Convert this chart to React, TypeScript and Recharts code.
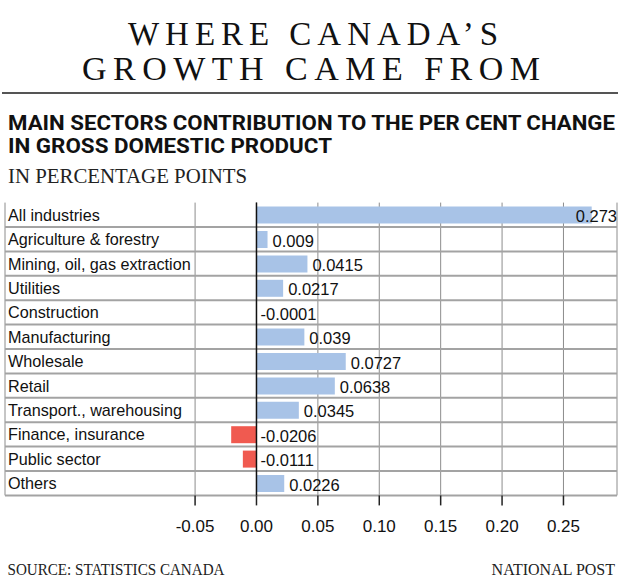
import { BarChart, Bar, XAxis, YAxis, CartesianGrid, ReferenceLine, LabelList, Cell } from 'recharts';

const sectors = [
  'All industries',
  'Agriculture & forestry',
  'Mining, oil, gas extraction',
  'Utilities',
  'Construction',
  'Manufacturing',
  'Wholesale',
  'Retail',
  'Transport., warehousing',
  'Finance, insurance',
  'Public sector',
  'Others',
];
const contributions = [0.273, 0.009, 0.0415, 0.0217, -0.0001, 0.039, 0.0727, 0.0638, 0.0345, -0.0206, -0.0111, 0.0226];
const xTicks = [-0.05, 0, 0.05, 0.1, 0.15, 0.2, 0.25];

const data = sectors.map((sector, i) => ({ sector, value: contributions[i] }));

const W = 620;
const H = 588;
// plot area runs x 5..617, y 202.6..495.4 (labels sit inside it on the left)
const MARGIN = { top: 202.6, right: 3, left: 0, bottom: 52.6 };
const SANS = '"Liberation Sans", Arial, sans-serif';
const SERIF = '"Liberation Serif", "Times New Roman", serif';
const BLUE = '#a8c3e7';
const RED = '#f05a50';

function SectorTick(props: any) {
  const { y, payload } = props;
  return (
    <text x={8} y={y} dominantBaseline="central" fontFamily={SANS} fontSize={16.2} fill="#111">
      {payload.value}
    </text>
  );
}

function ValueLabel(props: any) {
  const { x, y, width, height, value } = props;
  const fs = 16.5;
  const text = String(value);
  const right = Math.max(x, x + width);
  const cy = y + height / 2 + 1;
  let tx = value < 0 ? right + 4 : right + 5;
  let anchor: 'start' | 'end' = 'start';
  const digits = text.replace(/[^0-9]/g, '').length;
  const est = (digits * 0.556 + 0.278 + (value < 0 ? 0.333 : 0)) * fs;
  if (tx + est > W - MARGIN.right) {
    tx = W - MARGIN.right;
    anchor = 'end';
  }
  return (
    <text x={tx} y={cy} textAnchor={anchor} dominantBaseline="central" fontFamily={SANS} fontSize={fs} fill="#111">
      {text}
    </text>
  );
}

export default function App() {
  return (
    <div style={{ position: 'absolute', left: 0, top: 0, width: W, height: H, background: '#fff' }}>
      <BarChart width={W} height={H} data={data} layout="vertical" margin={MARGIN}>
        <CartesianGrid stroke="#8c8c8c" strokeWidth={1} horizontal={false} vertical />
        <CartesianGrid
          stroke="#a3a3a3"
          strokeWidth={2}
          vertical={false}
          horizontalCoordinatesGenerator={({ offset }: any) =>
            sectors.map((_, i) => offset.top + (offset.height * (i + 1)) / sectors.length)
          }
        />
        <XAxis
          type="number"
          domain={[-0.2048, 0.2936]}
          ticks={xTicks}
          allowDataOverflow
          axisLine={false}
          tickLine={{ stroke: '#222', strokeWidth: 1.5 }}
          tickSize={10}
          tickMargin={15}
          height={40}
          tickFormatter={(v: number) => v.toFixed(2)}
          tick={{ fontFamily: SANS, fontSize: 17, fill: '#111' }}
        />
        <YAxis
          type="category"
          dataKey="sector"
          width={5}
          axisLine={false}
          tickLine={false}
          interval={0}
          tick={<SectorTick />}
        />
        <ReferenceLine x={0} stroke="#111" strokeWidth={1.5} />
        <Bar dataKey="value" barSize={17} isAnimationActive={false}>
          {data.map((d, i) => (
            <Cell key={i} fill={d.value < 0 ? RED : BLUE} />
          ))}
          <LabelList dataKey="value" content={<ValueLabel />} />
        </Bar>
      </BarChart>
      <svg width={W} height={H} style={{ position: 'absolute', left: 0, top: 0, pointerEvents: 'none' }}>
        <text fontFamily={SERIF} fill="#111" textAnchor="middle">
          <tspan x={313} y={44.5} fontSize={33} textLength={370} lengthAdjust="spacing">
            WHERE CANADA’S
          </tspan>
          <tspan x={311} y={80} fontSize={34} textLength={458} lengthAdjust="spacing">
            GROWTH CAME FROM
          </tspan>
        </text>
        <line x1={2} x2={618} y1={93} y2={93} stroke="#555" strokeWidth={2} />
        <text x={8} y={129.5} fontFamily="Roboto, sans-serif" fontWeight={700} fontSize={20} fill="#111" textLength={607} lengthAdjust="spacingAndGlyphs">
          MAIN SECTORS CONTRIBUTION TO THE PER CENT CHANGE
        </text>
        <text x={8} y={153} fontFamily="Roboto, sans-serif" fontWeight={700} fontSize={20} fill="#111" textLength={324} lengthAdjust="spacingAndGlyphs">
          IN GROSS DOMESTIC PRODUCT
        </text>
        <text x={8} y={183.3} fontFamily={SERIF} fontSize={21} fill="#222" textLength={239} lengthAdjust="spacingAndGlyphs">
          IN PERCENTAGE POINTS
        </text>
        <text x={7.5} y={575} fontFamily={SERIF} fontSize={16} fill="#222" textLength={217} lengthAdjust="spacingAndGlyphs">
          SOURCE: STATISTICS CANADA
        </text>
        <text x={615} y={575} textAnchor="end" fontFamily={SERIF} fontSize={16} fill="#222">
          NATIONAL POST
        </text>
      </svg>
    </div>
  );
}
